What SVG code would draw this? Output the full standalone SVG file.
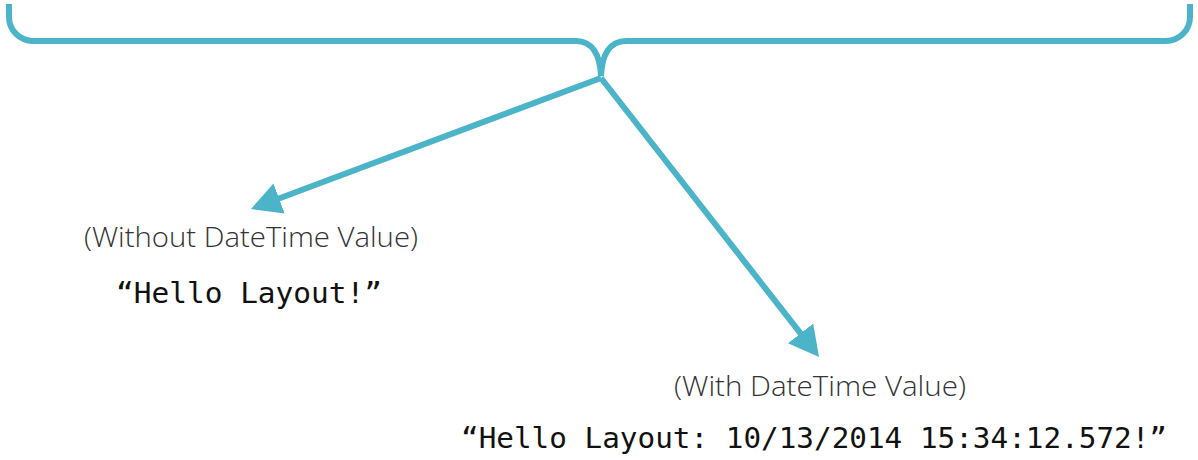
<svg xmlns="http://www.w3.org/2000/svg" width="1198" height="460" viewBox="0 0 1198 460">
<style>
.line{fill:none;stroke:#4BB4C8;stroke-width:6;stroke-linecap:butt}
.lbl{font-family:"Open Sans","Liberation Sans",sans-serif;font-weight:300;font-size:27px;fill:#333}
.code{font-family:"DejaVu Sans Mono","Liberation Mono",monospace;font-size:29px;fill:#111}
</style>
<defs>
<marker id="ah" markerUnits="userSpaceOnUse" markerWidth="34" markerHeight="34" refX="8" refY="16" orient="auto">
<path d="M0,0 L30,16 L0,32 Z" fill="#4BB4C8"/>
</marker>
</defs>
<g id="brace">
<path class="line" d="M9,4 V17 A24,24 0 0 0 33,41 H576 C592,41 600,54 601,76 C602,54 610,41 626,41 H1166 A24,24 0 0 0 1190,17 V4"/>
</g>
<g id="connectors">
<path class="line" d="M601,78 L271.6,201.3" marker-end="url(#ah)"/>
<path class="line" d="M601,78 L805.5,339.7" marker-end="url(#ah)"/>
</g>
<g id="node-without">
<text class="lbl" x="84" y="247" textLength="334" lengthAdjust="spacingAndGlyphs">(Without DateTime Value)</text>
<text class="code" x="116" y="303" textLength="266" lengthAdjust="spacingAndGlyphs">“Hello Layout!”</text>
</g>
<g id="node-with">
<text class="lbl" x="674" y="396" textLength="292" lengthAdjust="spacingAndGlyphs">(With DateTime Value)</text>
<text class="code" x="461" y="448" textLength="706" lengthAdjust="spacingAndGlyphs">“Hello Layout: 10/13/2014 15:34:12.572!”</text>
</g>
</svg>
